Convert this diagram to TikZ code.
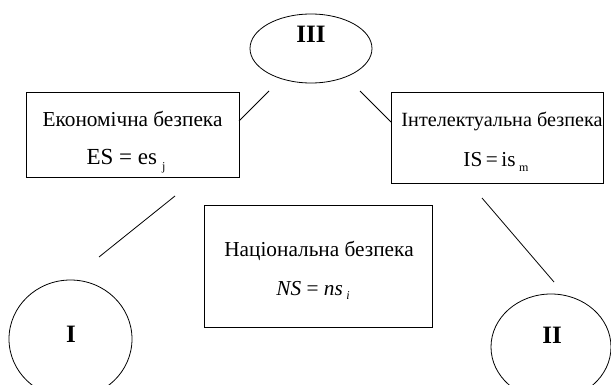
\documentclass[tikz,border=0pt]{standalone}
\usepackage{fontspec}
\setmainfont{Liberation Serif}
\usetikzlibrary{shapes.geometric}
\begin{document}
\begin{tikzpicture}[x=1pt,y=-1pt,
  box/.style={draw, line width=0.9pt, inner sep=0pt, rectangle},
  oval/.style={draw, line width=0.8pt, inner sep=0pt, ellipse},
  txt/.style={anchor=base, inner sep=0pt, font=\fontsize{21.3}{24}\selectfont},
  roman/.style={anchor=base, inner sep=0pt, font=\fontsize{25}{27}\selectfont\bfseries},
  link/.style={line width=0.8pt}]
\useasboundingbox (0,0) rectangle (611,385);
\fill[white] (0,0) rectangle (611,385);
% ovals
\node[oval, minimum width=122pt, minimum height=69pt] (o3) at (311,48.5) {};
\node[oval, minimum width=123pt, minimum height=118pt] (o1) at (70.5,339) {};
\node[oval, minimum width=120pt, minimum height=106pt] (o2) at (551,347) {};
\node[roman] (t3) at (311,43) {III};
\node[roman] (t1) at (71,342) {I};
\node[roman] (t2) at (552,343) {II};
% boxes
\node[box, minimum width=213pt, minimum height=85pt] (eb) at (132.5,134.5) {};
\node[box, minimum width=212pt, minimum height=91pt] (ib) at (497,137.5) {};
\node[box, minimum width=228pt, minimum height=122pt] (nb) at (318,266) {};
% texts
\node[txt] (e1) at (132.5,127) {Економічна безпека};
\node[txt, font=\fontsize{23}{25}\selectfont] (e2) at (126,165) {ES = es\hspace{5pt}\raisebox{-0.5ex}{\fontsize{12}{12}\selectfont j}};
\node[txt, font=\fontsize{20.2}{23}\selectfont] (i1) at (502,127) {Інтелектуальна безпека};
\node[txt] (i2) at (496,167) {IS\,=\,is\,\raisebox{-0.5ex}{\fontsize{12}{12}\selectfont m}};
\node[txt] (n1) at (319,256) {Національна безпека};
\node[txt] (n2) at (313,295) {\textit{NS} = \textit{ns}\,\raisebox{-0.5ex}{\fontsize{12}{12}\selectfont\itshape i}};
% connector end points
\coordinate (a1) at (269,91);
\coordinate (a2) at (239,121);
\coordinate (b1) at (360,91);
\coordinate (b2) at (391,122);
\coordinate (c1) at (175,196);
\coordinate (c2) at (99,257);
\coordinate (d1) at (482,198);
\coordinate (d2) at (554,282);
\draw[link] (a1) -- (a2);
\draw[link] (b1) -- (b2);
\draw[link] (c1) -- (c2);
\draw[link] (d1) -- (d2);
\end{tikzpicture}
\end{document}
